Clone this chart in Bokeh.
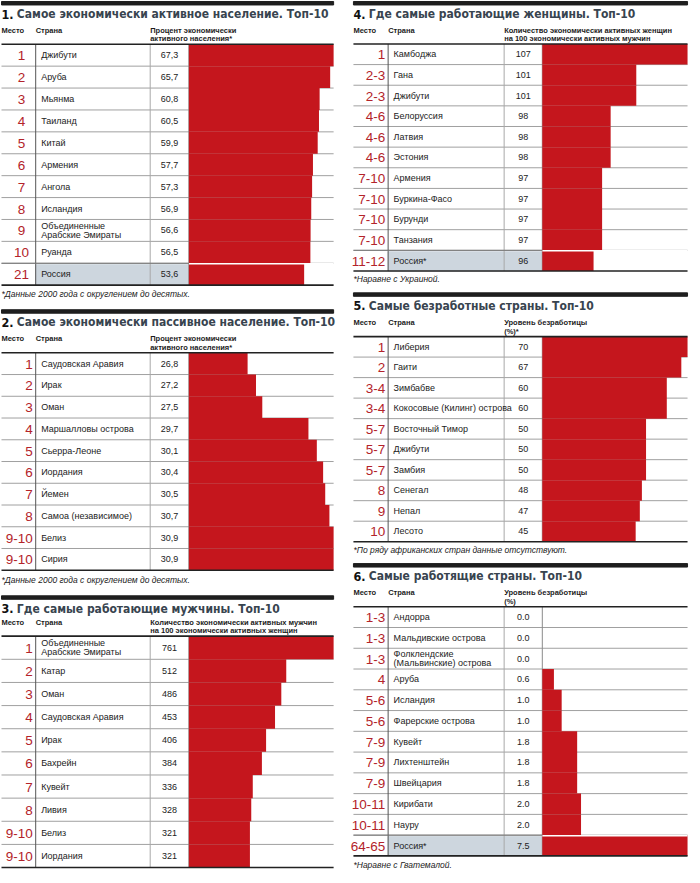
from bokeh.plotting import figure
from bokeh.models import Range1d
from bokeh.core.properties import value
from bokeh.embed import file_html
from bokeh.resources import INLINE

# ---------------- data ----------------
titles = [
    ("1.", "Самое экономически активное население. Топ-10"),
    ("2.", "Самое экономически пассивное население. Топ-10"),
    ("3.", "Где самые работающие мужчины. Топ-10"),
    ("4.", "Где самые работающие женщины. Топ-10"),
    ("5.", "Самые безработные страны. Топ-10"),
    ("6.", "Самые работящие страны. Топ-10"),
]
value_headers = [
    "Процент экономически\nактивного населения*",
    "Процент экономически\nактивного населения*",
    "Количество экономически активных мужчин\nна 100 экономически активных женщин",
    "Количество экономически активных женщин\nна 100 экономически активных мужчин",
    "Уровень безработицы\n(%)*",
    "Уровень безработицы\n(%)",
]
footnotes = [
    "*Данные 2000 года с округлением до десятых.",
    "*Данные 2000 года с округлением до десятых.",
    "",
    "*Наравне с Украиной.",
    "*По ряду африканских стран данные отсутствуют.",
    "*Наравне с Гватемалой.",
]

ranks1 = ["1", "2", "3", "4", "5", "6", "7", "8", "9", "10", "21"]
countries1 = ["Джибути", "Аруба", "Мьянма", "Таиланд", "Китай", "Армения", "Ангола",
              "Исландия", "Объединенные\nАрабские Эмираты", "Руанда", "Россия"]
values1 = [67.3, 65.7, 60.8, 60.5, 59.9, 57.7, 57.3, 56.9, 56.6, 56.5, 53.6]

ranks2 = ["1", "2", "3", "4", "5", "6", "7", "8", "9-10", "9-10"]
countries2 = ["Саудовская Аравия", "Ирак", "Оман", "Маршалловы острова", "Сьерра-Леоне",
              "Иордания", "Йемен", "Самоа (независимое)", "Белиз", "Сирия"]
values2 = [26.8, 27.2, 27.5, 29.7, 30.1, 30.4, 30.5, 30.7, 30.9, 30.9]

ranks3 = ["1", "2", "3", "4", "5", "6", "7", "8", "9-10", "9-10"]
countries3 = ["Объединенные\nАрабские Эмираты", "Катар", "Оман", "Саудовская Аравия", "Ирак",
              "Бахрейн", "Кувейт", "Ливия", "Белиз", "Иордания"]
values3 = [761, 512, 486, 453, 406, 384, 336, 328, 321, 321]

ranks4 = ["1", "2-3", "2-3", "4-6", "4-6", "4-6", "7-10", "7-10", "7-10", "7-10", "11-12"]
countries4 = ["Камбоджа", "Гана", "Джибути", "Белоруссия", "Латвия", "Эстония", "Армения",
              "Буркина-Фасо", "Бурунди", "Танзания", "Россия*"]
values4 = [107, 101, 101, 98, 98, 98, 97, 97, 97, 97, 96]

ranks5 = ["1", "2", "3-4", "3-4", "5-7", "5-7", "5-7", "8", "9", "10"]
countries5 = ["Либерия", "Гаити", "Зимбабве", "Кокосовые (Килинг) острова", "Восточный Тимор",
              "Джибути", "Замбия", "Сенегал", "Непал", "Лесото"]
values5 = [70, 67, 60, 60, 50, 50, 50, 48, 47, 45]

ranks6 = ["1-3", "1-3", "1-3", "4", "5-6", "5-6", "7-9", "7-9", "7-9", "10-11", "10-11", "64-65"]
countries6 = ["Андорра", "Мальдивские острова", "Фолклендские\n(Мальвинские) острова", "Аруба",
              "Исландия", "Фарерские острова", "Кувейт", "Лихтенштейн", "Швейцария",
              "Кирибати", "Науру", "Россия*"]
values6 = [0.0, 0.0, 0.0, 0.6, 1.0, 1.0, 1.8, 1.8, 1.8, 2.0, 2.0, 7.5]

# scale baselines of the bar columns (value at which the bars start)
bar_baselines = [0, 24, 0, 90, 0, 0]
# rows highlighted (Russia)
highlighted = [True, False, False, True, False, True]

# ---------------- style / layout ----------------
TITLE_FONT = "DejaVu Sans Condensed"
BODY_FONT = "Liberation Sans"
RED_BAR = "#c5161d"
RED_TXT = "#b3232a"
TITLE_C = "#38444f"
DARK = "#1c1c1c"
GRID = "#a0a0a0"
HL_BG = "#cdd6de"

LEFT = dict(x0=3, x1=338, c1=37.5, c2=153, c3=192, bw=146)
RIGHT = dict(x0=358, x1=695, c1=393, c2=510, c3=548.5, bw=146.5)
# top bar y, header line y, bottom line y, footnote y, geometry, rank mode, decimal format
layouts = [
    dict(top=4, hline=47, bottom=289.3, foot=298, g=LEFT, rmode="center", fmt="{:.1f}", dec=","),
    dict(top=314, hline=357.3, bottom=576, foot=585.5, g=LEFT, rmode="right", fmt="{:.1f}", dec=","),
    dict(top=601.7, hline=642.3, bottom=875, foot=None, g=LEFT, rmode="right", fmt="{:.0f}", dec=","),
    dict(top=4, hline=46.7, bottom=275, foot=283.5, g=RIGHT, rmode="right", fmt="{:.0f}", dec=","),
    dict(top=297, hline=341, bottom=547.3, foot=556, g=RIGHT, rmode="right", fmt="{:.0f}", dec=","),
    dict(top=569.3, hline=612.7, bottom=863.3, foot=872, g=RIGHT, rmode="right", fmt="{:.1f}", dec="."),
]

X0, X1 = 2, 700
Y0, Y1 = 3, 883
p = figure(width=692, height=875, x_range=Range1d(X0, X1), y_range=Range1d(Y1, Y0),
           output_backend="svg", toolbar_location=None, x_axis_type=None, y_axis_type=None,
           min_border=0)
p.outline_line_color = None
p.background_fill_color = "white"
p.border_fill_color = "white"

all_data = [
    (ranks1, countries1, values1),
    (ranks2, countries2, values2),
    (ranks3, countries3, values3),
    (ranks4, countries4, values4),
    (ranks5, countries5, values5),
    (ranks6, countries6, values6),
]


def txt(x, y, t, size, color, align="left", baseline="middle", font=BODY_FONT, style="normal"):
    p.text(x=x, y=y, text=t, text_font=value(font), text_font_size=value(size),
           text_color=color, text_align=align, text_baseline=baseline, text_font_style=style)


for ti, ((ranks, countries, vals), lay) in enumerate(zip(all_data, layouts)):
    g = lay["g"]
    n = len(vals)
    top, hline, bottom = lay["top"], lay["hline"], lay["bottom"]
    row_h = (bottom - hline) / n
    centers = [hline + (i + 0.5) * row_h for i in range(n)]
    tops = [hline + i * row_h for i in range(n)]

    # top black rule
    p.quad(left=[g["x0"]], right=[g["x1"]], top=[top], bottom=[top + 3.5], color="#1e1e1e")
    # title
    num, rest = titles[ti]
    txt([g["x0"]], [top + 12.8], [num], "12.5px", "#111111", font=TITLE_FONT, style="bold")
    txt([g["x0"] + 15.5], [top + 12.8], [rest], "12px", TITLE_C, font=TITLE_FONT, style="bold")
    # header
    hy = hline - 14
    txt([g["x0"]], [hy], ["Место"], "7.5px", DARK, style="bold")
    txt([g["c1"]], [hy], ["Страна"], "7.5px", DARK, style="bold")
    hl_lines = value_headers[ti].split("\n")
    txt([g["c2"]] * len(hl_lines), [hy + 8.7 * k for k in range(len(hl_lines))], hl_lines,
        "7.5px", DARK, style="bold")

    # highlight background
    if highlighted[ti]:
        p.quad(left=[g["c1"]], right=[g["c3"]], top=[tops[-1] + 1.5], bottom=[bottom], color=HL_BG)

    # row separators
    p.segment(x0=[g["x0"]] * (n - 1), x1=[g["x1"]] * (n - 1), y0=tops[1:], y1=tops[1:],
              line_color=GRID, line_width=1)
    # column separators
    p.segment(x0=[g["c1"], g["c2"], g["c3"]], x1=[g["c1"], g["c2"], g["c3"]],
              y0=[hline] * 3, y1=[bottom] * 3,
              line_color=["#555555", "#a8a8a8", "#8a8a8a"], line_width=1)

    # bars through their own scale
    base = bar_baselines[ti]
    k = g["bw"] / (max(vals) - base)
    rname = f"bars{ti}"
    p.extra_x_ranges[rname] = Range1d(base - (g["c3"] - X0) / k, base + (X1 - g["c3"]) / k)
    p.hbar(y=centers, height=row_h, left=base, right=vals, x_range_name=rname,
           color=RED_BAR, line_color=None)
    if highlighted[ti]:
        p.segment(x0=[g["c3"]], x1=[g["x1"]], y0=[tops[-1] + 0.5], y1=[tops[-1] + 0.5],
                  line_color="white", line_width=1.5)
        p.segment(x0=[g["x0"]], x1=[g["c3"]], y0=[tops[-1]], y1=[tops[-1]],
                  line_color="#777777", line_width=1)

    # header and bottom rules
    p.segment(x0=[g["x0"], g["x0"]], x1=[g["x1"], g["x1"]], y0=[hline, bottom], y1=[hline, bottom],
              line_color="#222222", line_width=1.6)

    # ranks
    if lay["rmode"] == "center":
        rx, ra = (g["x0"] + g["c1"]) / 2 + 3, "center"
    else:
        rx, ra = g["c1"] - 3, "right"
    txt([rx] * n, [c + 0.5 for c in centers], ranks, "13.5px", RED_TXT, align=ra,
        font=BODY_FONT)

    # countries (one or two lines)
    cx, cy, ct = [], [], []
    for c, name in zip(centers, countries):
        parts = name.split("\n")
        off = (len(parts) - 1) * 8.7 / 2
        for j, part in enumerate(parts):
            cx.append(g["c1"] + 5.5)
            cy.append(c - off + j * 8.7)
            ct.append(part)
    txt(cx, cy, ct, "9px", "#222222")

    # values
    labels = [lay["fmt"].format(v).replace(".", lay["dec"]) for v in vals]
    txt([(g["c2"] + g["c3"]) / 2] * n, centers, labels, "9px", "#222222", align="center")

    # footnote
    if footnotes[ti]:
        txt([g["x0"]], [lay["foot"]], [footnotes[ti]], "8.5px", "#222222", style="italic")

open("out.html", "w").write(file_html(p, INLINE))
